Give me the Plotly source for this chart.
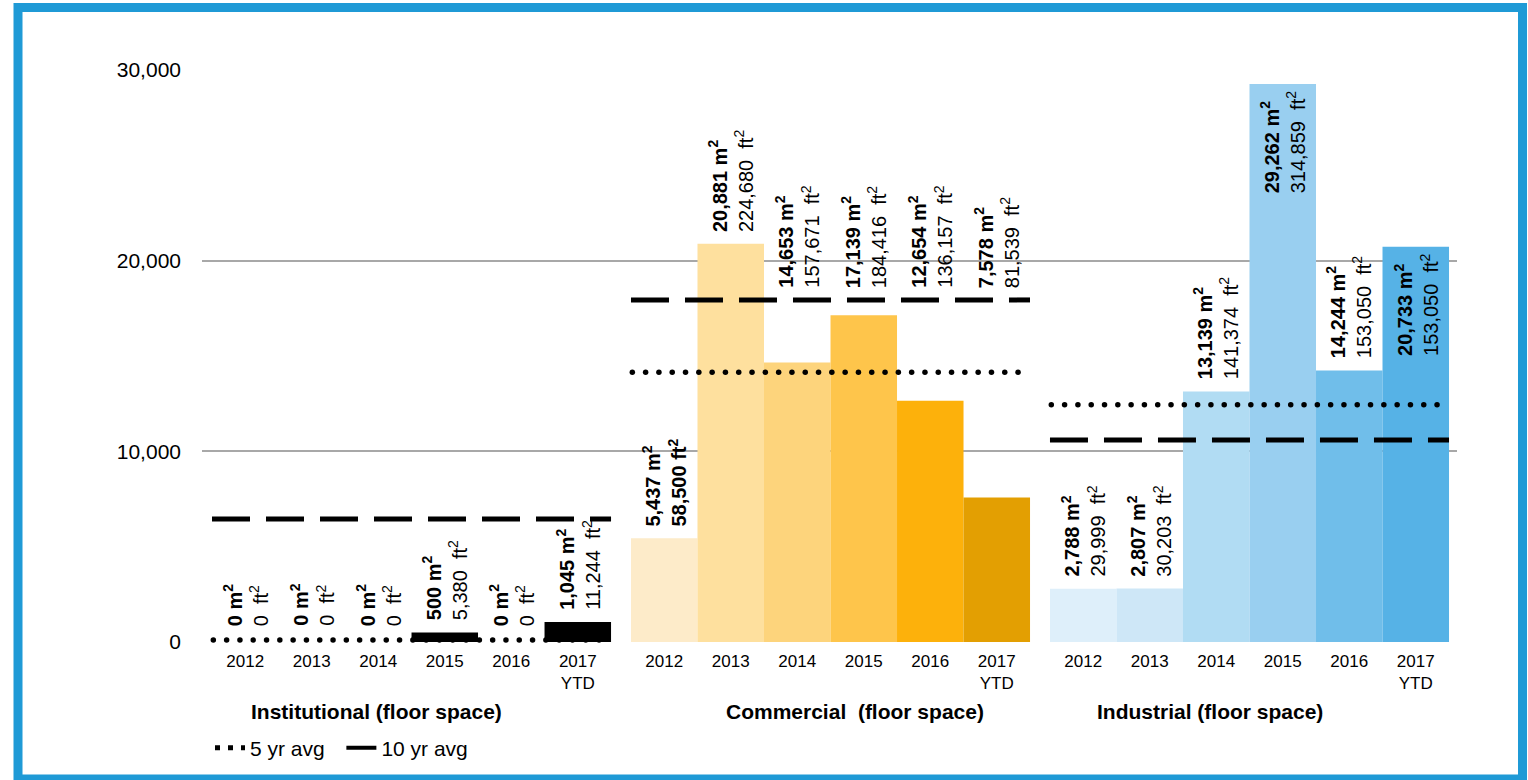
import numpy as np
import plotly.graph_objects as go

# ---- data -------------------------------------------------------------
groups = ["Institutional", "Commercial", "Industrial"]
group_titles = ["Institutional (floor space)", "Commercial  (floor space)", "Industrial (floor space)"]
years = ["2012", "2013", "2014", "2015", "2016", "2017\nYTD"]

institutional_m2 = [0, 0, 0, 500, 0, 1045]
institutional_ft2 = [0, 0, 0, 5380, 0, 11244]
commercial_m2 = [5437, 20881, 14653, 17139, 12654, 7578]
commercial_ft2 = [58500, 224680, 157671, 184416, 136157, 81539]
industrial_m2 = [2788, 2807, 13139, 29262, 14244, 20733]
industrial_ft2 = [29999, 30203, 141374, 314859, 153050, 153050]

# ten-year averages per sector (m²)
avg10 = [6450, 17940, 10590]

# ---- styling ----------------------------------------------------------
FONT = "Liberation Sans, Arial, Helvetica, sans-serif"
colors = {
    "Institutional": ["#000000"] * 6,
    "Commercial": ["#FDEBC9", "#FEE09E", "#FDD47C", "#FEC54B", "#FDB10B", "#E39F02"],
    "Industrial": ["#DEEFFA", "#CEE7F7", "#B1DCF3", "#99CFF0", "#70BEEA", "#56B2E6"],
}
# where each value label sits: above the bar, above the 10-yr line, or inside the bar top
placement = {
    "Institutional": ["above"] * 6,
    "Commercial": ["above", "above", "line", "line", "line", "line"],
    "Industrial": ["above", "above", "above", "inside", "above", "inside"],
}
bold_both = {("Commercial", 0)}

W, H = 1528, 780
ML, MR, MT, MB = 202, 71, 70, 138
PW, PH = W - ML - MR, H - MT - MB
GAP = 0.3  # gap between sector groups, in bar widths
SUP2 = "<sup>2</sup>"


def px_x(px):
    return (px - ML) / PW


def px_y(py):
    return (H - MB - py) / PH


series_m2 = [institutional_m2, commercial_m2, industrial_m2]
series_ft2 = [institutional_ft2, commercial_ft2, industrial_ft2]

fig = go.Figure()
annotations = []
tickvals, ticktext = [], []

for gi, g in enumerate(groups):
    start = gi * (len(years) + GAP)
    xs = [start + i + 0.5 for i in range(len(years))]
    m2 = series_m2[gi]
    ft2 = series_ft2[gi]
    fig.add_trace(go.Bar(
        x=xs, y=m2, width=1.0,
        marker=dict(color=colors[g], line=dict(width=0)),
        showlegend=False, hoverinfo="skip",
    ))
    tickvals += xs
    ticktext += [y.replace("\n", "<br>") for y in years]

    # averages: 5-yr from 2012-2016, 10-yr as given
    a5 = float(np.mean(m2[:5]))
    a10 = avg10[gi]
    dots_x = np.arange(start + 0.02, start + len(years), 0.2)
    fig.add_trace(go.Scatter(
        x=dots_x, y=[a5] * len(dots_x), mode="markers",
        marker=dict(color="black", size=5.5, symbol="circle"),
        showlegend=False, hoverinfo="skip", cliponaxis=False,
    ))
    fig.add_trace(go.Scatter(
        x=[start, start + len(years)], y=[a10, a10], mode="lines",
        line=dict(color="black", width=5, dash="38px,16px"),
        showlegend=False, hoverinfo="skip",
    ))

    for i, (v, f) in enumerate(zip(m2, ft2)):
        top = f"<b>{v:,} m{SUP2}</b>"
        if (g, i) in bold_both:
            bottom = f"<b>{f:,} ft{SUP2}</b>"
        else:
            bottom = f"{f:,}\u00a0 ft{SUP2}"
        mode = placement[g][i]
        if mode == "line":
            yv, ya, ys = a10, "bottom", 10
        elif mode == "inside":
            yv, ya, ys = v, "top", -4
        else:
            yv, ya, ys = v, "bottom", 10 if v > 0 else 14
        annotations.append(dict(
            x=xs[i], y=yv, xref="x", yref="y", yanchor=ya, xanchor="center",
            yshift=ys, text=f"{top}<br>{bottom}", textangle=-90, align="left",
            showarrow=False, font=dict(family=FONT, size=20, color="black"),
        ))

# sector titles under the axis
for title, cx in zip(group_titles, [376, 855, 1210]):
    annotations.append(dict(
        x=px_x(cx), y=px_y(711), xref="paper", yref="paper",
        xanchor="center", yanchor="middle", showarrow=False,
        text=f"<b>{title}</b>", font=dict(family=FONT, size=21, color="black"),
    ))

# legend entries
fig.add_trace(go.Scatter(
    x=[None], y=[None], mode="lines", name="5 yr avg\u00a0\u00a0",
    line=dict(color="black", width=5, dash="5px,8px"),
))
fig.add_trace(go.Scatter(
    x=[None], y=[None], mode="lines", name="10 yr avg",
    line=dict(color="black", width=4),
))

x_max = 3 * len(years) + 2 * GAP
fig.update_layout(
    width=W, height=H,
    margin=dict(l=ML, r=MR, t=MT, b=MB, pad=0),
    paper_bgcolor="white", plot_bgcolor="white",
    font=dict(family=FONT, color="black"),
    barmode="overlay",
    showlegend=True,
    legend=dict(
        orientation="h", x=px_x(210), y=px_y(748), xanchor="left", yanchor="middle",
        font=dict(family=FONT, size=21, color="black"), itemwidth=30,
        tracegroupgap=0, bgcolor="rgba(0,0,0,0)",
    ),
    xaxis=dict(
        range=[-10 / 66.5, x_max + 0.12], tickmode="array",
        tickvals=tickvals, ticktext=ticktext, showgrid=False, zeroline=False,
        showline=False, ticks="", ticklabelstandoff=7,
        tickfont=dict(family=FONT, size=17, color="black"), fixedrange=True,
    ),
    yaxis=dict(
        range=[0, 30000], tickvals=[0, 10000, 20000, 30000], tickformat=",",
        showgrid=True, gridcolor="#A8A8A8", gridwidth=1.5, zeroline=False,
        showline=False, ticks="", ticklabelstandoff=20,
        tickfont=dict(family=FONT, size=21, color="black"), fixedrange=True,
    ),
    annotations=annotations,
    shapes=[dict(
        type="rect", xref="paper", yref="paper", layer="above",
        x0=px_x(18), x1=px_x(1522.5), y0=px_y(779), y1=px_y(7.5),
        line=dict(color="#1F9AD6", width=9), fillcolor="rgba(0,0,0,0)",
    )],
)

fig.write_html("out.html", config={"displayModeBar": False})
